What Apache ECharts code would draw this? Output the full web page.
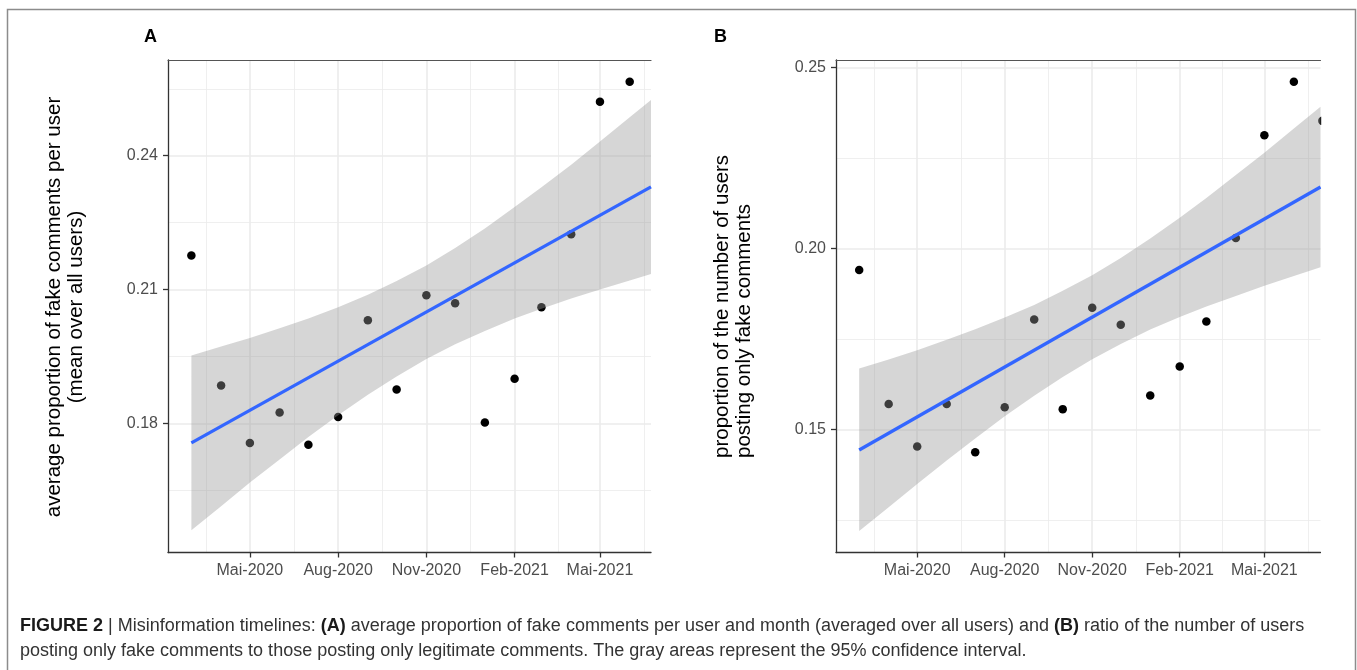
<!DOCTYPE html>
<html>
<head>
<meta charset="utf-8">
<script src="https://cdn.jsdelivr.net/npm/echarts@6/dist/echarts.min.js"></script>
<style>
html,body{margin:0;padding:0;background:#fff;}
#chart{width:1357px;height:670px;}
</style>
</head>
<body>
<div id="chart"></div>
<script>
// ---------- data ----------
const months = ['2020-03-01','2020-04-01','2020-05-01','2020-06-01','2020-07-01','2020-08-01',
  '2020-09-01','2020-10-01','2020-11-01','2020-12-01','2021-01-01','2021-02-01',
  '2021-03-01','2021-04-01','2021-05-01','2021-06-01','2021-07-01'];

// Panel A: average proportion of fake comments per user (Mar 2020 - Jun 2021 visible)
const fakeShareA = [0.2176,0.1885,0.1756,0.1824,0.1752,0.1814,0.2031,0.1876,0.2087,0.2069,
  0.1802,0.1900,0.2060,0.2224,0.2521,0.2566];
// Panel B: proportion of users posting only fake comments (Mar 2020 - Jul 2021)
const onlyFakeB = [0.1941,0.1570,0.1453,0.1570,0.1437,0.1561,0.1804,0.1556,0.1836,0.1789,
  0.1594,0.1674,0.1798,0.2029,0.2313,0.2461,0.2353];

// linear fit and its 95% confidence band
const fitDatesA = ['2020-03-01','2021-06-23T05:00:00Z'];
const fitA = [0.1756,0.2330];
const bandDatesA = ['2020-03-01','2020-04-01','2020-05-01','2020-06-01','2020-07-01','2020-08-01',
  '2020-09-01','2020-10-01','2020-11-01','2020-12-01','2021-01-01','2021-02-01',
  '2021-03-01','2021-04-01','2021-05-01','2021-06-01','2021-06-23T05:00:00Z'];
const bandUpperA = [0.1952,0.1972,0.1991,0.2013,0.2035,0.2060,0.2088,0.2119,0.2154,0.2193,
  0.2237,0.2285,0.2329,0.2380,0.2432,0.2486,0.2525];
const bandLowerA = [0.1560,0.1614,0.1667,0.1719,0.1769,0.1818,0.1864,0.1905,0.1944,0.1977,
  0.2007,0.2035,0.2057,0.2080,0.2100,0.2120,0.2135];

const fitDatesB = ['2020-03-01','2021-06-29'];
const fitB = [0.1443,0.2170];
const bandDatesB = ['2020-03-01','2020-04-01','2020-05-01','2020-06-01','2020-07-01','2020-08-01',
  '2020-09-01','2020-10-01','2020-11-01','2020-12-01','2021-01-01','2021-02-01',
  '2021-03-01','2021-04-01','2021-05-01','2021-06-01','2021-06-29'];
const bandUpperB = [0.1668,0.1693,0.1719,0.1748,0.1777,0.1809,0.1844,0.1883,0.1926,0.1974,
  0.2028,0.2085,0.2140,0.2203,0.2265,0.2332,0.2392];
const bandLowerB = [0.1219,0.1285,0.1349,0.1414,0.1475,0.1536,0.1593,0.1645,0.1694,0.1736,
  0.1776,0.1811,0.1840,0.1869,0.1897,0.1924,0.1948];

// axis ticks
const xTickDates = ['2020-05-01','2020-08-01','2020-11-01','2021-02-01','2021-05-01'];
const xTickLabels = ['Mai-2020','Aug-2020','Nov-2020','Feb-2021','Mai-2021'];
const xMinorDates = ['2020-03-17','2020-06-16','2020-09-16','2020-12-17','2021-03-18','2021-06-16'];
const yTicksA = [0.18,0.21,0.24];
const yMinorA = [0.165,0.195,0.225,0.255];
const yTicksB = [0.15,0.20,0.25];
const yMinorB = [0.125,0.175,0.225];

// axis ranges
const xRangeA = ['2020-02-05T15:00:00Z','2021-06-23T05:00:00Z'];
const xRangeB = ['2020-02-05T15:00:00Z','2021-06-29'];
const yRangeA = [0.15103,0.26146];
const yRangeB = [0.11596,0.25213];

// ---------- build ----------
const T = s => Date.parse(s);
const labelMap = {};
xTickDates.forEach((d,i)=>{ labelMap[T(d)] = xTickLabels[i]; });
const FONT = 'Liberation Sans, Arial, Helvetica, sans-serif';
const AX = '#333333';
const GRIDC = '#ebebeb';

function xAxes(gi, range){
  return [{
    gridIndex: gi, type:'value', min:T(range[0]), max:T(range[1]), position:'bottom',
    axisLine:{show:true,onZero:false,lineStyle:{color:AX,width:1.3}},
    axisTick:{show:true,length:5,customValues:xTickDates.map(T),lineStyle:{color:AX,width:1.3}},
    axisLabel:{show:true,customValues:xTickDates.map(T),formatter:v=>labelMap[v]||'',
      color:'#4d4d4d',fontSize:16,fontFamily:FONT,margin:10},
    splitLine:{show:true,lineStyle:{color:GRIDC,width:1.6}}
  },{
    gridIndex: gi, type:'value', min:T(range[0]), max:T(range[1]), position:'top',
    axisLine:{show:true,onZero:false,lineStyle:{color:'#555',width:1.2}},
    axisTick:{show:false,customValues:xMinorDates.map(T)},
    axisLabel:{show:false,customValues:xMinorDates.map(T)},
    splitLine:{show:true,lineStyle:{color:GRIDC,width:0.8}}
  }];
}
function yAxes(gi, range, majors, minors){
  return [{
    gridIndex: gi, type:'value', min:range[0], max:range[1], position:'left',
    axisLine:{show:true,onZero:false,lineStyle:{color:AX,width:1.3}},
    axisTick:{show:true,length:5,customValues:majors,lineStyle:{color:AX,width:1.3}},
    axisLabel:{show:true,customValues:majors,formatter:v=>v.toFixed(2),
      color:'#4d4d4d',fontSize:16,fontFamily:FONT,margin:10},
    splitLine:{show:true,lineStyle:{color:GRIDC,width:1.6}}
  },{
    gridIndex: gi, type:'value', min:range[0], max:range[1], position:'right',
    axisLine:{show:false},
    axisTick:{show:false,customValues:minors},
    axisLabel:{show:false,customValues:minors},
    splitLine:{show:true,lineStyle:{color:GRIDC,width:0.8}}
  }];
}
function panelSeries(xi, yi, name, pts, bandDates, lower, upper, fitDates, fit){
  const n = bandDates.length;
  return [{
    name:name+' points', type:'scatter', xAxisIndex:xi, yAxisIndex:yi,
    data: pts.map((v,i)=>[T(months[i]),v]),
    symbol:'circle', symbolSize:8.5, itemStyle:{color:'#000',opacity:1}, clip:false, z:2
  },{
    name:name+' ci', type:'custom', xAxisIndex:xi, yAxisIndex:yi, clip:true, z:3,
    data: bandDates.map((d,i)=>[T(d),lower[i],upper[i]]),
    encode:{x:0,y:[1,2]},
    renderItem:(params, api)=>{
      if (params.dataIndex !== 0) return null;
      const poly = [];
      for (let i=0;i<n;i++) poly.push(api.coord([T(bandDates[i]), upper[i]]));
      for (let i=n-1;i>=0;i--) poly.push(api.coord([T(bandDates[i]), lower[i]]));
      return {type:'polygon', shape:{points:poly}, style:{fill:'rgba(153,153,153,0.4)', stroke:null}};
    }
  },{
    name:name+' fit', type:'line', xAxisIndex:xi, yAxisIndex:yi,
    data: fitDates.map((d,i)=>[T(d),fit[i]]),
    symbol:'none', lineStyle:{color:'#3366ff',width:3.3}, z:4
  }];
}

function txt(x,y,text,opts){
  return Object.assign({type:'text', x:x, y:y, silent:true,
    style:Object.assign({text:text, fontFamily:FONT, fontSize:20.5, fill:'#000',
      textAlign:'center', align:'center', textVerticalAlign:'middle', verticalAlign:'middle'}, opts.style||{})},
    opts.el||{});
}

const capRich = {b:{fontFamily:FONT,fontSize:18,fontWeight:'bold',fill:'#1a1a1a'}};

const option = {
  animation:false,
  backgroundColor:'#fff',
  grid:[
    {left:168,top:60,width:483,height:492.5,outerBoundsMode:'none',containLabel:false},
    {left:836,top:60,width:484.5,height:492.5,outerBoundsMode:'none',containLabel:false}
  ],
  xAxis:[...xAxes(0,xRangeA), ...xAxes(1,xRangeB)],
  yAxis:[...yAxes(0,yRangeA,yTicksA,yMinorA), ...yAxes(1,yRangeB,yTicksB,yMinorB)],
  series:[
    ...panelSeries(0,0,'A',fakeShareA,bandDatesA,bandLowerA,bandUpperA,fitDatesA,fitA),
    ...panelSeries(2,2,'B',onlyFakeB,bandDatesB,bandLowerB,bandUpperB,fitDatesB,fitB)
  ],
  graphic:[
    // figure was cropped at the right edge of panel B: hide anything drawn past it
    {type:'rect', silent:true, z:100, shape:{x:1321.2,y:50,width:32.5,height:510},
      style:{fill:'#fff',stroke:null}},
    {type:'rect', silent:true, z:101, shape:{x:7.5,y:9.5,width:1348,height:680},
      style:{fill:'none',stroke:'#8c8c8c',lineWidth:1.5}},
    txt(150.5,37,'A',{style:{fontWeight:'bold',fontSize:18}}),
    txt(720.5,37,'B',{style:{fontWeight:'bold',fontSize:18}}),
    txt(54.5,307,'average proportion of fake comments per user',{el:{rotation:Math.PI/2}}),
    txt(76.5,307,'(mean over all users)',{el:{rotation:Math.PI/2}}),
    txt(722,458,'proportion of the number of users',{el:{rotation:Math.PI/2},style:{textAlign:'left',align:'left'}}),
    txt(744.5,458,'posting only fake comments',{el:{rotation:Math.PI/2},style:{textAlign:'left',align:'left'}}),
    txt(20,626,'{b|FIGURE 2} | Misinformation timelines: {b|(A)} average proportion of fake comments per user and month (averaged over all users) and {b|(B)} ratio of the number of users',
      {style:{fontSize:18,fill:'#333',textAlign:'left',align:'left',rich:capRich}}),
    txt(20,651,'posting only fake comments to those posting only legitimate comments. The gray areas represent the 95% confidence interval.',
      {style:{fontSize:18,fill:'#333',textAlign:'left',align:'left'}})
  ]
};

const chart = echarts.init(document.getElementById('chart'), null, {renderer:'canvas'});
chart.setOption(option);
</script>
</body>
</html>
